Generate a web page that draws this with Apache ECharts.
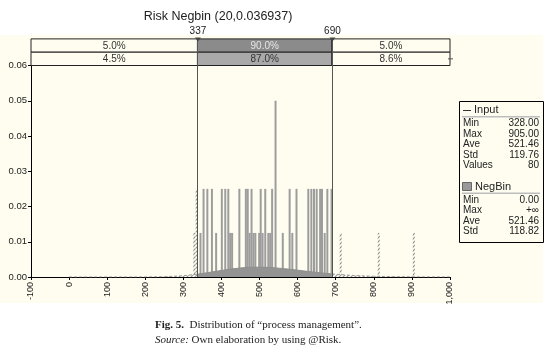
<!DOCTYPE html>
<html><head><meta charset="utf-8">
<script src="https://cdn.jsdelivr.net/npm/echarts@6/dist/echarts.min.js"></script>
<style>html,body{margin:0;padding:0;background:#fff}#c{width:546px;height:348px}</style>
</head><body><div id="c"></div>
<script>
// ---- data ----
const titleText = 'Risk Negbin (20,0.036937)';
const leftMark = 337, rightMark = 690;
const row1Pct = ['5.0%', '90.0%', '5.0%'];
const row2Pct = ['4.5%', '87.0%', '8.6%'];
// Input histogram (inside 337..690)
const barX = [345,353,363,375,386,401,410,418,423,428,447,464,469,474,479,484,489,499,503,508,515,523,528,533,542,561,579,586,597,628,636,643,650,659,664,671,678,689];
const barH = [0.0125,0.025,0.025,0.025,0.0125,0.025,0.025,0.025,0.0125,0.0125,0.025,0.025,0.025,0.0125,0.025,0.0125,0.0125,0.0125,0.025,0.0125,0.025,0.0125,0.0125,0.025,0.05,0.0125,0.025,0.0125,0.025,0.025,0.025,0.025,0.025,0.025,0.025,0.0125,0.025,0.025];
// Input histogram outside the 5%-95% range
const tailX = [329,335,713,813,905];
const tailH = [0.0125,0.025,0.0125,0.0125,0.0125];
// NegBin fitted curve
const fitX = [0,100,150,200,250,300,337,350,375,400,425,450,475,500,525,550,575,600,625,650,675,690,700,725,750,775,800,850,900,950,1000];
const fitY = [0,0,0.0000003,0.0000076,0.000078,0.000366,0.000805,0.001,0.00143,0.00186,0.00226,0.00257,0.00275,0.00279,0.00271,0.00251,0.00224,0.00193,0.00161,0.0013,0.00102,0.00087,0.00078,0.00058,0.00042,0.0003,0.00021,0.0001,0.000043,0.000018,0.000007];
const inputStats = [['Min','328.00'],['Max','905.00'],['Ave','521.46'],['Std','119.76'],['Values','80']];
const fitStats = [['Min','0.00'],['Max','+\u221e'],['Ave','521.46'],['Std','118.82']];
const xMin = -100, xMax = 1000, xStep = 100;
const yMin = 0, yMax = 0.06, yStep = 0.01;
const caption1 = 'Distribution of \u201cprocess management\u201d.';
const caption2 = 'Own elaboration by using @Risk.';

// ---- styling helpers ----
const CREAM = '#fffdf0';
const FONT = 'Liberation Sans, Arial, sans-serif';
function hatch(color) {
  const c = document.createElement('canvas');
  c.width = 4; c.height = 4;
  const g = c.getContext('2d');
  g.fillStyle = CREAM; g.fillRect(0, 0, 4, 4);
  g.strokeStyle = color; g.lineWidth = 1.2;
  g.beginPath(); g.moveTo(0, 4); g.lineTo(4, 0); g.moveTo(-1, 1); g.lineTo(1, -1); g.moveTo(3, 5); g.lineTo(5, 3); g.stroke();
  return { image: c, repeat: 'repeat' };
}
const fitPairs = fitX.map((x, i) => [x, fitY[i]]);
const fitLeft = fitPairs.filter(p => p[0] <= leftMark);
const fitMid = fitPairs.filter(p => p[0] >= leftMark && p[0] <= rightMark);
const fitRight = fitPairs.filter(p => p[0] >= rightMark);

const chart = echarts.init(document.getElementById('c'), null, { renderer: 'canvas' });
chart.setOption({
  animation: false,
  backgroundColor: '#ffffff',
  grid: { left: 31, right: 96, top: 65.5, bottom: 71, containLabel: false },
  xAxis: {
    type: 'value', min: xMin, max: xMax, interval: xStep,
    axisLine: { show: true, onZero: false, lineStyle: { color: '#000', width: 1 } },
    axisTick: { show: true, length: 3, lineStyle: { color: '#000' } },
    axisLabel: { rotate: 90, fontSize: 9, color: '#222', fontFamily: FONT, margin: 5 },
    splitLine: { show: false }
  },
  yAxis: {
    type: 'value', min: yMin, max: yMax, interval: yStep,
    axisLine: { show: true, onZero: false, lineStyle: { color: '#000', width: 1 } },
    axisTick: { show: true, length: 3, lineStyle: { color: '#000' } },
    axisLabel: { fontSize: 9.5, color: '#222', fontFamily: FONT, margin: 4, formatter: v => v.toFixed(2) },
    splitLine: { show: false }
  },
  series: [
    { type: 'line', data: fitLeft, showSymbol: false, lineStyle: { color: '#999', width: 1, type: [3, 2] }, areaStyle: { color: hatch('#999'), opacity: 1 } },
    { type: 'line', data: fitMid, showSymbol: false, lineStyle: { color: '#8e8e8e', width: 1 }, areaStyle: { color: '#939393', opacity: 1 } },
    { type: 'line', data: fitRight, showSymbol: false, lineStyle: { color: '#999', width: 1, type: [3, 2] }, areaStyle: { color: hatch('#999'), opacity: 1 } },
    { type: 'bar', data: barX.map((x, i) => [x, barH[i]]), barWidth: 2, barGap: '-100%', itemStyle: { color: '#9d9d9d' } },
    { type: 'bar', data: tailX.map((x, i) => [x, tailH[i]]), barWidth: 2, barGap: '-100%', itemStyle: { color: hatch('#8a8a8a') } }
  ]
});

const px = v => chart.convertToPixel({ xAxisIndex: 0 }, v);
const py = v => chart.convertToPixel({ yAxisIndex: 0 }, v);
const x0 = px(xMin), x1 = px(xMax), xl = px(leftMark), xr = px(rightMark);
const yTop = py(yMax), yBase = py(yMin);
const rowH = 13.3;
const r1 = yTop - 2 * rowH, r2 = yTop - rowH;
const g = [];
// cream background of figure
g.push({ type: 'rect', z: -100, silent: true, shape: { x: 0, y: 35, width: 543, height: 268 }, style: { fill: CREAM } });
// title
g.push({ type: 'text', x: 218, y: 17, style: { text: titleText, font: '12.5px ' + FONT, fill: '#222', align: 'center', verticalAlign: 'middle' } });
// table
function cell(xa, xb, y, fill) { g.push({ type: 'rect', z: 10, shape: { x: xa, y: y, width: xb - xa, height: rowH }, style: { fill: fill, stroke: '#222', lineWidth: 1 } }); }
function ctext(xa, xb, y, t, c) { g.push({ type: 'text', z: 12, x: (xa + xb) / 2, y: y + rowH / 2 + 0.5, style: { text: t, font: '10px ' + FONT, fill: c, align: 'center', verticalAlign: 'middle' } }); }
cell(x0, xl, r1, CREAM); cell(xl, xr, r1, '#8b8b8b'); cell(xr, x1, r1, CREAM);
cell(x0, xl, r2, CREAM); cell(xl, xr, r2, '#a9a9a9'); cell(xr, x1, r2, CREAM);
ctext(x0, xl, r1, row1Pct[0], '#333'); ctext(xl, xr, r1, row1Pct[1], '#e6e6e6'); ctext(xr, x1, r1, row1Pct[2], '#333');
ctext(x0, xl, r2, row2Pct[0], '#333'); ctext(xl, xr, r2, row2Pct[1], '#333'); ctext(xr, x1, r2, row2Pct[2], '#333');
g.push({ type: 'line', z: 12, shape: { x1: x1 - 2, y1: r2 + rowH / 2, x2: x1 + 3, y2: r2 + rowH / 2 }, style: { stroke: '#555', lineWidth: 1 } });
// marker lines
[[xl, leftMark], [xr, rightMark]].forEach(([xx, v]) => {
  g.push({ type: 'line', z: 20, shape: { x1: Math.round(xx) + 0.5, y1: r1, x2: Math.round(xx) + 0.5, y2: yBase }, style: { stroke: '#555', lineWidth: 1 } });
  g.push({ type: 'polygon', z: 21, shape: { points: [[xx - 2.5, r1 - 1.5], [xx + 3.5, r1 - 1.5], [xx + 0.5, r1 + 2.5]] }, style: { fill: '#444' } });
  g.push({ type: 'text', z: 21, x: xx + 0.5, y: r1 - 8, style: { text: String(v), font: '10px ' + FONT, fill: '#222', align: 'center', verticalAlign: 'middle' } });
});
// legend box
const lx = 459, ly = 101, lw = 84, lh = 141;
g.push({ type: 'rect', z: 30, shape: { x: lx + 0.5, y: ly + 0.5, width: lw, height: lh }, style: { fill: CREAM, stroke: '#000', lineWidth: 1 } });
g.push({ type: 'line', z: 31, shape: { x1: 463, y1: 110.5, x2: 471, y2: 110.5 }, style: { stroke: '#333', lineWidth: 1 } });
g.push({ type: 'text', z: 31, x: 474, y: 110, style: { text: 'Input', font: '11px ' + FONT, fill: '#222', verticalAlign: 'middle' } });
g.push({ type: 'rect', z: 31, shape: { x: 462, y: 116, width: 78, height: 1.5 }, style: { fill: '#bdbdbd' } });
inputStats.forEach(([k, v], i) => {
  const yy = 123.5 + i * 10.5;
  g.push({ type: 'text', z: 31, x: 463, y: yy, style: { text: k, font: '10px ' + FONT, fill: '#222', verticalAlign: 'middle' } });
  g.push({ type: 'text', z: 31, x: 539, y: yy, style: { text: v, font: '10px ' + FONT, fill: '#222', align: 'right', verticalAlign: 'middle' } });
});
g.push({ type: 'rect', z: 31, shape: { x: 462.5, y: 182.5, width: 9, height: 8 }, style: { fill: '#9a9a9a', stroke: '#666', lineWidth: 1 } });
g.push({ type: 'text', z: 31, x: 475, y: 186.5, style: { text: 'NegBin', font: '11px ' + FONT, fill: '#222', verticalAlign: 'middle' } });
g.push({ type: 'rect', z: 31, shape: { x: 462, y: 192.5, width: 78, height: 1.5 }, style: { fill: '#bdbdbd' } });
fitStats.forEach(([k, v], i) => {
  const yy = 200 + i * 10.5;
  g.push({ type: 'text', z: 31, x: 463, y: yy, style: { text: k, font: '10px ' + FONT, fill: '#222', verticalAlign: 'middle' } });
  g.push({ type: 'text', z: 31, x: 539, y: yy, style: { text: v, font: '10px ' + FONT, fill: '#222', align: 'right', verticalAlign: 'middle' } });
});
// caption
g.push({ type: 'text', x: 155, y: 325, style: { text: '{b|Fig. 5.}  ' + caption1, font: '11px Liberation Serif, serif', fill: '#222', verticalAlign: 'middle', rich: { b: { fontWeight: 'bold', fontFamily: 'Liberation Serif, serif', fontSize: 11 } } } });
g.push({ type: 'text', x: 155, y: 340, style: { text: '{i|Source:} ' + caption2, font: '11px Liberation Serif, serif', fill: '#222', verticalAlign: 'middle', rich: { i: { fontStyle: 'italic', fontFamily: 'Liberation Serif, serif', fontSize: 11 } } } });
chart.setOption({ graphic: g });
</script></body></html>
